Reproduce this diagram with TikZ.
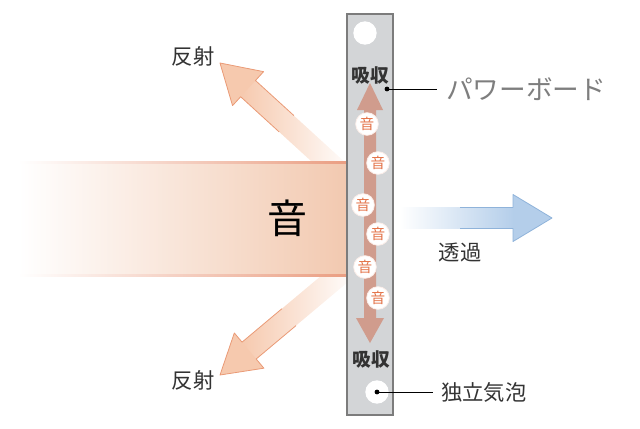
\documentclass[tikz,border=0pt]{standalone}
\usepackage{fontspec}
\newfontfamily\jp{Noto Sans CJK JP}
\usetikzlibrary{positioning}

\definecolor{refl}{HTML}{F6C9AE}
\definecolor{reflline}{HTML}{EA9A76}
\definecolor{band}{HTML}{F2C9B0}
\definecolor{bandline}{HTML}{EA9E82}
\definecolor{boardfill}{HTML}{D3D5D7}
\definecolor{boardline}{HTML}{7C7C7C}
\definecolor{absorb}{HTML}{D09C8D}
\definecolor{trans}{HTML}{B4CEEA}
\definecolor{transline}{HTML}{8FB3DA}
\definecolor{oncolor}{HTML}{E4744A}
\definecolor{txtgray}{HTML}{333333}
\definecolor{lightgray}{HTML}{7E7E7E}

\begin{document}
\begin{tikzpicture}[x=0.75pt,y=-0.75pt,
  every node/.style={inner sep=0pt},
  lbl/.style={font=\jp\fontsize{16}{16}\selectfont, text=txtgray},
  absorblbl/.style={font=\jp\bfseries\fontsize{14}{14}\selectfont, text=txtgray},
  bubble/.style={circle, fill=white, draw=white!88!oncolor, line width=0.6pt,
    minimum size=17pt, font=\jp\fontsize{11}{11}\selectfont, text=oncolor},
  hole/.style={circle, fill=white, minimum size=17.5pt},
  leader/.style={draw=black, line width=0.6pt}]
\useasboundingbox (0,0) rectangle (640,429);

% reflection, upper
\begin{scope}[shift={(220,63)}, rotate=-42.4]
\shade[left color=refl, right color=white] (37,-11) rectangle (170,11);
\fill[refl] (0,0) -- (38,-23) -- (38,23) -- cycle;
\draw[reflline, line width=0.6pt, line join=round] (90,-11) -- (38,-11) -- (38,-23) -- (0,0) -- (38,23) -- (38,11) -- (90,11);
\end{scope}

% reflection, lower
\begin{scope}[shift={(220,375)}, rotate=40]
\shade[left color=refl, right color=white] (37,-11) rectangle (170,11);
\fill[refl] (0,0) -- (38,-23) -- (38,23) -- cycle;
\draw[reflline, line width=0.6pt, line join=round] (90,-11) -- (38,-11) -- (38,-23) -- (0,0) -- (38,23) -- (38,11) -- (90,11);
\end{scope}

% incoming sound
\shade[left color=white, right color=band] (18,162) rectangle (347,275);
\shade[left color=white, right color=bandline] (18,161) rectangle (347,163);
\shade[left color=white, right color=bandline] (18,274) rectangle (347,276);
\node[font=\jp\fontsize{30}{30}\selectfont] (snd) at (287,218) {音};

% transmitted
\shade[left color=white, right color=trans] (400,207.5) rectangle (514,228.5);
\fill[trans] (552,218) -- (513,194.5) -- (513,241.5) -- cycle;
\draw[transline, line width=0.6pt, line join=round] (460,207.5) -- (513,207.5) -- (513,194.5) -- (552,218) -- (513,241.5) -- (513,228.5) -- (460,228.5);
\node[lbl] (tr) at (460,252) {透過};

% board
\fill[boardfill] (347,14) rectangle (393,415);
\draw[boardline, line width=0.8pt] (347,14) rectangle (393,415);
\node[hole] (h1) at (365,33) {};
\node[hole] (h2) at (377,392) {};
\node[absorblbl] (ab1) at (370,75) {吸収};
\node[absorblbl] (ab2) at (371,359) {吸収};

% absorption inside the board
\fill[absorb] (370,83) -- (383,110) -- (376,110) -- (376,318) -- (384,318) -- (370,343)
  -- (356,318) -- (364,318) -- (364,110) -- (357,110) -- cycle;
\node[bubble] (o1) at (367,124) {音};
\node[bubble] (o2) at (378,163) {音};
\node[bubble] (o3) at (363,205) {音};
\node[bubble] (o4) at (378,234) {音};
\node[bubble] (o5) at (365,267) {音};
\node[bubble] (o6) at (378,298) {音};

% labels
\node[lbl] (r1) at (193,56) {反射};
\node[lbl] (r2) at (193,380) {反射};

\coordinate (bdot) at (387,89);
\fill (bdot) circle (1.8pt);
\node[anchor=west, font=\jp\fontsize{20}{20}\selectfont, text=lightgray] (pb) at (446,89) {パワーボード};
\draw[leader, shorten >=7pt] (bdot) -- (pb.west);

\fill (h2.center) circle (1.8pt);
\node[lbl, anchor=west] (cell) at (441,392) {独立気泡};
\draw[leader, shorten >=6pt] (h2.center) -- (cell.west);
\end{tikzpicture}
\end{document}
